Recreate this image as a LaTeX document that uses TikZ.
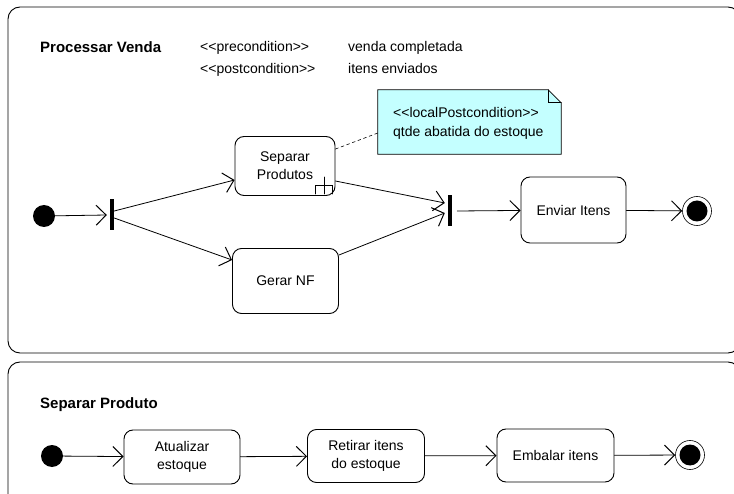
\documentclass[tikz,border=0pt]{standalone}
\usepackage{fontspec}
\setmainfont{Liberation Sans}
\usetikzlibrary{arrows.meta}

\begin{document}
\begin{tikzpicture}
		[x=1pt,y=-1pt,line cap=round,
		font=\fontsize{14}{18}\selectfont,
		%Styles
		frame/.style={draw, rounded corners=12pt, line width=0.9pt},
		action/.style 2 args={draw, rounded corners=9pt, line width=0.9pt, align=center, inner sep=0pt, minimum width=#1, minimum height=#2},
		bar/.style={fill=black, inner sep=0pt, minimum width=4pt, minimum height=31pt},
		start/.style={circle, fill=black, inner sep=0pt, minimum size=22pt},
		stop/.style={circle, draw, line width=0.6pt, inner sep=0pt, minimum size=29pt,
			path picture={\fill (path picture bounding box.center) circle (10.5pt);}},
		flow/.style={line width=0.8pt, -{Straight Barb[length=10pt,width=20pt,line width=1pt]}},
		title/.style={font=\fontsize{15}{18}\selectfont\bfseries, anchor=base west, inner sep=0pt},
		plain text/.style={anchor=base west, inner sep=0pt},
		notebox/.style={inner sep=0pt, minimum width=183pt, minimum height=64pt}
		]
		
		%Colors
		\definecolor{notecolor}{RGB}{196,255,255}	%note fill
		
		\useasboundingbox (0,0) rectangle (734,494);
		\clip (0,0) rectangle (734,494);
		
		%The graphic
		\draw[frame] (8,7) rectangle (740,353);
		\draw[frame] (8,362) rectangle (740,520);
		
		\node[title] (t1) at (40,53) {Processar Venda};
		\node[plain text] (pre) at (200,52) {<{}<precondition>{}>};
		\node[plain text] (prev) at (348,52) {venda completada};
		\node[plain text] (post) at (200,74) {<{}<postcondition>{}>};
		\node[plain text] (postv) at (348,74) {itens enviados};
		
		% note
		\node[notebox] (note) at (469.5,122) {};
		\draw[fill=notecolor, line width=0.8pt] (note.south west) -- (note.south east)
			-- ([yshift=-13pt]note.north east) -- ([xshift=-13pt]note.north east)
			-- (note.north west) -- cycle;
		\draw[line width=0.6pt] ([xshift=-13pt]note.north east) -- ([xshift=-13pt,yshift=-13pt]note.north east)
			-- ([yshift=-13pt]note.north east);
		\node[plain text] (n1) at (393,118) {<{}<localPostcondition>{}>};
		\node[plain text] (n2) at (393,137) {qtde abatida do estoque};
		
		% main flow
		\node[start] (ini) at (44,216) {};
		\node[bar] (fork) at (112,215) {};
		\node[action={100pt}{59pt}] (sep) at (285,166) {Separar\\Produtos};
		\node[action={106pt}{65pt}] (nf) at (285.5,281) {Gerar NF};
		\node[bar] (join) at (450,211) {};
		\node[action={105pt}{66pt}] (env) at (573.5,210) {Enviar Itens};
		\node[stop] (fin) at (697,211) {};
		
		\draw[shift={(sep.south east)}, line width=0.7pt] (-20,-2) -- (-20,-11) -- (-3,-11) -- (-3,-2)
			(-11.5,-19) -- (-11.5,-2);
		
		\draw[dashed, dash pattern=on 3pt off 3pt, line width=0.6pt] ([yshift=-13pt]sep.north east) -- ([yshift=-11pt]note.west);
		
		\draw[flow] (ini) -- ([xshift=-3pt]fork.west);
		\draw[flow] ([yshift=4pt]fork.east) -- ([yshift=-14pt]sep.west);
		\draw[flow] ([yshift=-3pt]fork.east) -- ([yshift=21pt]nf.west);
		\draw[flow] ([yshift=-15pt]sep.east) -- ([xshift=-3pt,yshift=8pt]join.west);
		\draw[flow] ([yshift=26pt]nf.east) -- ([xshift=-3pt,yshift=-2pt]join.west);
		\draw[flow] ([xshift=5pt]join.east) -- (env);
		\draw[flow] (env) -- (fin);
		
		% sub activity
		\node[title] (t2) at (40,409) {Separar Produto};
		\node[start] (ini2) at (52,456) {};
		\node[action={116pt}{54pt}] (atu) at (182,457) {Atualizar\\estoque};
		\node[action={117pt}{53pt}] (ret) at (366,456) {Retirar itens\\do estoque};
		\node[action={117pt}{53pt}] (emb) at (555.5,455.5) {Embalar itens};
		\node[stop] (fin2) at (690,455) {};
		
		\draw[flow] (ini2) -- (atu);
		\draw[flow] (atu) -- (ret);
		\draw[flow] (ret) -- (emb);
		\draw[flow] (emb) -- (fin2);
	\end{tikzpicture}
\end{document}
